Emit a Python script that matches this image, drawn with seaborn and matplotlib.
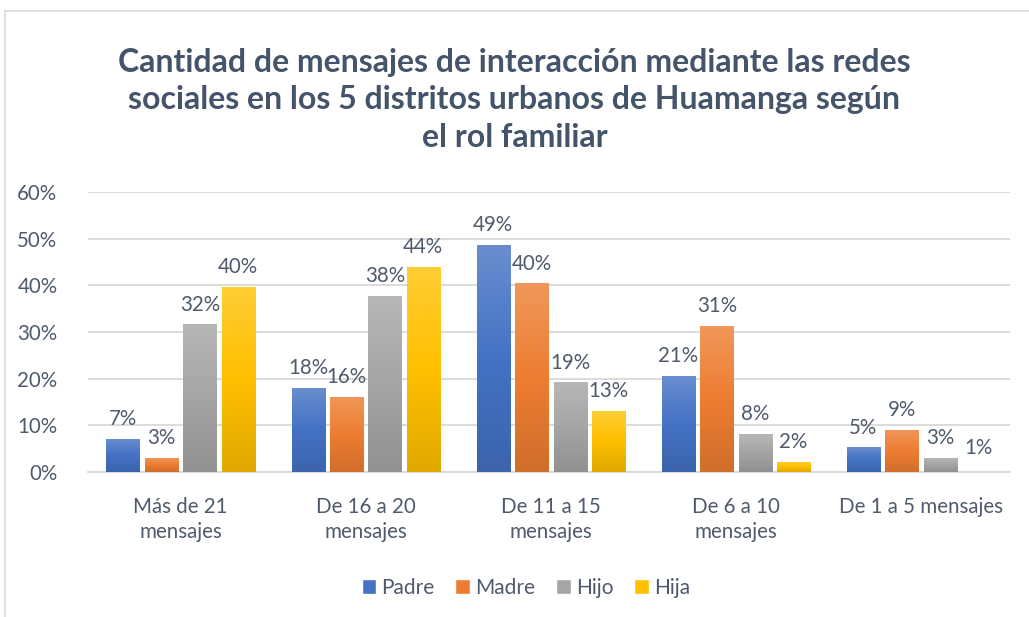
import pandas as pd
import numpy as np
import matplotlib
matplotlib.use("Agg")
import matplotlib.pyplot as plt
import seaborn as sns
from matplotlib.colors import LinearSegmentedColormap, to_rgb
from matplotlib.patches import Patch
from matplotlib.lines import Line2D

# values (percent)
categories = ["Más de 21\nmensajes", "De 16 a 20\nmensajes", "De 11 a 15\nmensajes",
              "De 6 a 10\nmensajes", "De 1 a 5 mensajes"]
roles = ["Padre", "Madre", "Hijo", "Hija"]
padre = [7.1, 18.0, 48.6, 20.6, 5.3]
madre = [3.1, 16.1, 40.4, 31.3, 9.1]
hijo = [31.6, 37.7, 19.2, 8.2, 3.0]
hija = [39.6, 43.9, 13.1, 2.2, 0.9]
colors = ["#4472C4", "#ED7D31", "#A5A5A5", "#FFC000"]
title = ("Cantidad de mensajes de interacción mediante las redes\n"
         "sociales en los 5 distritos urbanos de Huamanga según\n"
         "el rol familiar")

series = [padre, madre, hijo, hija]
df = pd.DataFrame({
    "rango": categories * 4,
    "rol": np.repeat(roles, len(categories)),
    "pct": padre + madre + hijo + hija,
})

sns.set_style("white")
plt.rcParams["font.family"] = ["Lato", "DejaVu Sans"]
txt = "#4F5A6C"

fig = plt.figure(figsize=(10.29, 6.17), dpi=100)
ax = fig.add_axes([0.0855, 0.235, 0.896, 0.454])
sns.barplot(data=df, x="rango", y="pct", hue="rol", palette=colors,
            width=0.83, gap=0.14, legend=False, ax=ax, zorder=3)

ax.set_ylim(0, 60)
ax.set_xlim(-0.5, 4.48)
ax.set_yticks(range(0, 61, 10))
ax.set_yticklabels([f"{t}%" for t in range(0, 61, 10)])
ax.yaxis.grid(True, color="#D9D9D9", linewidth=1.3, zorder=0)
ax.set_axisbelow(True)
for s in ["top", "right", "left"]:
    ax.spines[s].set_visible(False)
ax.spines["bottom"].set_color("#D9D9D9")
ax.spines["bottom"].set_linewidth(1.3)
ax.tick_params(axis="both", length=0, labelsize=14.8, colors=txt)
ax.tick_params(axis="x", pad=18)
ax.tick_params(axis="y", pad=22)
for lab in ax.get_xticklabels():
    lab.set_linespacing(1.3)
ax.set_xlabel("")
ax.set_ylabel("")

# gradient fill, lighter on top like the Excel original
for cont, c, vals in zip(ax.containers, colors, series):
    base = np.array(to_rgb(c))
    top = base + (1 - base) * 0.2
    bot = base * 0.88
    cmap = LinearSegmentedColormap.from_list("g", [bot, base, top])
    for bar in cont:
        x, w, h = bar.get_x(), bar.get_width(), bar.get_height()
        bar.set_facecolor("none")
        bar.set_edgecolor("none")
        img = ax.imshow(np.linspace(0, 1, 100).reshape(-1, 1), cmap=cmap,
                        extent=[x, x + w, 0, h], origin="lower",
                        aspect="auto", zorder=3)
        img.set_clip_path(bar)
    ax.bar_label(cont, labels=[f"{round(v)}%" for v in vals], padding=7,
                 fontsize=14.8, color=txt)

# the 1% Hija bar is not drawn in the original
ax.containers[3][4].set_visible(False)
ax.images[-1].set_visible(False)

ax.set_ylim(0, 60)
ax.set_xlim(-0.5, 4.48)

handles = [Patch(facecolor=c, label=r) for c, r in zip(colors, roles)]
fig.legend(handles=handles, loc="center", bbox_to_anchor=(0.511, 0.047), ncol=4,
           frameon=False, fontsize=15, labelcolor=txt, handlelength=0.7,
           handleheight=0.7, handletextpad=0.25, columnspacing=1.0)

fig.text(0.5, 0.838, title, ha="center", va="center", fontsize=23,
         fontweight="bold", color="#44546A", linespacing=1.36)

fig.add_artist(Line2D([0.005, 0.005], [0, 0.982], transform=fig.transFigure,
                      color="#D9D9D9", linewidth=1.2))
fig.add_artist(Line2D([0.005, 1], [0.982, 0.982], transform=fig.transFigure,
                      color="#D9D9D9", linewidth=1.2))

fig.savefig("out.png", dpi=100)
